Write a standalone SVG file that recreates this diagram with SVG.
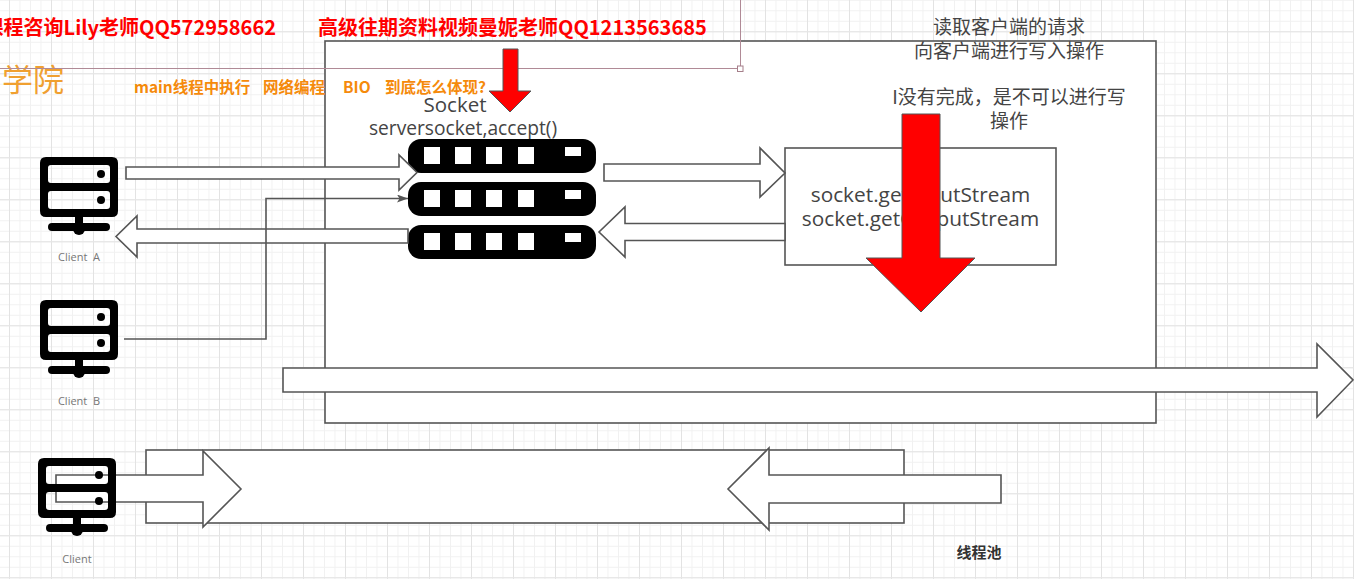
<svg xmlns="http://www.w3.org/2000/svg" width="1354" height="579" viewBox="0 0 1354 579">
<style>
text{font-family:"Noto Sans CJK SC","Open Sans","Noto Sans",sans-serif}
.latin{font-family:"Open Sans","Noto Sans CJK SC",sans-serif}
.box{fill:#fff;stroke:#555;stroke-width:1.6}
.arrow{fill:#fff;stroke:#555;stroke-width:1.6;stroke-linejoin:miter}
.red{fill:#f00;stroke:#555;stroke-width:1}
.lbl{fill:#444;font-size:19px;text-anchor:middle}
.code{font-size:20.8px}
.cap{fill:#777;font-size:11px;text-anchor:middle;white-space:pre}
.hdr{fill:#f00;font-size:20px;font-weight:700}
.org{fill:#f58a0b;font-size:15.500px;font-weight:700}
.ic{fill:#000;fill-rule:evenodd}
.hole{fill:#fff}
</style>
<defs>
<pattern id="g1" width="10.500" height="10.500" patternUnits="userSpaceOnUse" patternTransform="translate(9 31.300)"><path d="M10.500 0.500H0.500V10.500" fill="none" stroke="#f1f1f1" stroke-width="1"/></pattern>
<pattern id="g2" width="42" height="42" patternUnits="userSpaceOnUse" patternTransform="translate(9 31.300)"><path d="M42 0.500H0.500V42" fill="none" stroke="#e3e3e3" stroke-width="1"/></pattern>
<marker id="tip" markerWidth="12" markerHeight="8" refX="11" refY="4" orient="auto" markerUnits="userSpaceOnUse"><path d="M0 0L11 4L0 8L2.500 4Z" fill="#555"/></marker>
<g id="clientIcon">
<path class="ic" d="M46 0H112Q118 0 118 6V54Q118 60 112 60H46Q40 60 40 54V6Q40 0 46 0ZM51 8Q48 8 48 11V23Q48 26 51 26H107Q110 26 110 23V11Q110 8 107 8ZM51 34Q48 34 48 37V49Q48 52 51 52H107Q110 52 110 49V37Q110 34 107 34Z"/>
<circle cx="101" cy="17" r="4"/><circle cx="101" cy="43" r="4"/>
<rect x="75" y="60" width="8" height="8"/>
<rect x="48" y="66" width="62" height="8" rx="4"/>
<circle cx="79" cy="72" r="6"/>
</g>
<g id="rack">
<rect x="408" y="0" width="188" height="34" rx="13" fill="#000"/>
<rect class="hole" x="424" y="8" width="16" height="17"/>
<rect class="hole" x="455" y="8" width="16" height="17"/>
<rect class="hole" x="486" y="8" width="16" height="17"/>
<rect class="hole" x="518" y="8" width="16" height="17"/>
<rect class="hole" x="565" y="8" width="16" height="9"/>
</g>
</defs>
<rect width="1354" height="579" fill="#fff"/>
<rect width="1354" height="579" fill="url(#g1)"/>
<rect width="1354" height="579" fill="url(#g2)"/>

<g id="header-text">
<text class="hdr" x="276" y="35" text-anchor="end">课程咨询Lily老师QQ572958662</text>
<text x="2" y="91" font-size="31" fill="#f0a030">学院</text>
</g>
<g id="process-box"><rect class="box" x="325" y="41" width="831" height="382"/></g>
<g id="guide"><path d="M0 68.500H740.500V0" fill="none" stroke="#b08a96" stroke-width="1"/><rect x="737.500" y="66" width="5.500" height="5.500" fill="#fff" stroke="#a57f8a"/></g>
<g id="header-text-2">
<text class="hdr" x="318" y="35">高级往期资料视频曼妮老师QQ1213563685</text>
<text class="org" y="93"><tspan x="134">main线程中执行</tspan><tspan x="263">网络编程</tspan><tspan x="343">BIO</tspan><tspan x="385">到底怎么体现?</tspan></text>
</g>
<g id="thread-pool"><rect class="box" x="146" y="450" width="758" height="73"/><text x="979" y="558" font-size="15" font-weight="700" fill="#333" text-anchor="middle">线程池</text></g>
<g id="socket-server">
<text class="lbl latin" x="455" y="112" style="font-size:20.500px">Socket</text>
<text class="lbl latin" x="463" y="135" style="font-size:19.200px">serversocket,accept()</text>
<use href="#rack" y="139"/><use href="#rack" y="182"/><use href="#rack" y="225"/>
</g>
<g id="stream-box">
<rect class="box" x="785" y="148" width="271" height="117"/>
<text class="lbl latin code" x="920.500" y="202">socket.getInputStream</text>
<text class="lbl latin code" x="920.500" y="226">socket.getOutputStream</text>
</g>
<g id="read-write-note">
<text class="lbl" x="1009" y="34">读取客户端的请求</text>
<text class="lbl" x="1009" y="58">向客户端进行写入操作</text>
<text class="lbl" x="1009" y="104">I没有完成，是不可以进行写</text>
<text class="lbl" x="1009" y="128">操作</text>
</g>
<g id="connectors">
<path class="arrow" d="M126 167H399V155L417 172.500L399 190V179H126Z"/>
<path class="arrow" d="M408 229H137V216L116 236.500L137 257V243H408Z"/>
<path d="M124 339H266V198.500H408" fill="none" stroke="#555" stroke-width="1.600" marker-end="url(#tip)"/>
<path class="arrow" d="M604 164H760V148L785 173L760 197V181H604Z"/>
<path class="arrow" d="M785 223.500H625V207L599 232L625 257V240.500H785Z"/>
<path class="arrow" d="M283 368H1317V344L1353 380L1317 417V392H283Z"/>
<path class="arrow" d="M56 475H203V451L241 489L203 527V502H56Z"/>
<path class="arrow" d="M1001 475H769V448L728 489L769 530V503H1001Z"/>
<path class="red" d="M503 49H518V91H531L510 112L489 91H503Z"/>
<path class="red" d="M902 114H940V258H975L921 312L866 258H902Z"/>
</g>
<g id="client-a"><use href="#clientIcon" y="157"/><text class="cap latin" x="79" y="261">Client  A</text></g>
<g id="client-b"><use href="#clientIcon" y="300"/><text class="cap latin" x="79" y="405">Client  B</text></g>
<g id="client"><use href="#clientIcon" x="-2" y="458"/><text class="cap latin" x="77" y="563">Client</text></g>
</svg>
